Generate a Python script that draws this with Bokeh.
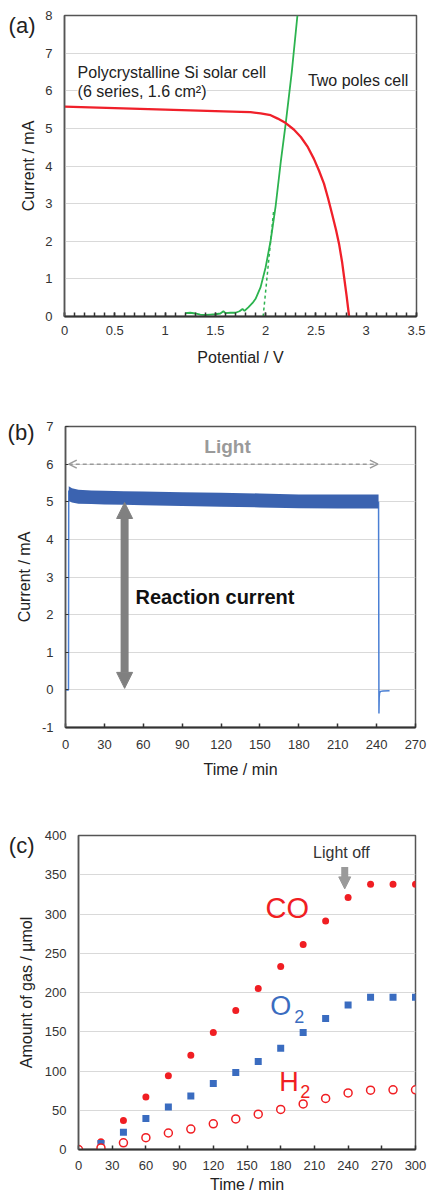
from bokeh.plotting import figure
from bokeh.models import (Range1d, SingleIntervalTicker, FixedTicker, Label, Arrow, NormalHead,
                          OpenHead, LinearAxis, CustomJSTickFormatter)
from bokeh.embed import file_html
from bokeh.resources import INLINE

FONT = "Liberation Sans"

# ---------------- (a) I-V curves ----------------
solar_v = [0.0, 0.25, 0.5, 0.75, 1.0, 1.25, 1.5, 1.75, 1.85, 1.95, 2.05, 2.12, 2.2,
           2.28, 2.35, 2.42, 2.48, 2.53, 2.58, 2.62, 2.66, 2.70, 2.73, 2.76, 2.78,
           2.805, 2.83]
solar_i = [5.58, 5.56, 5.54, 5.52, 5.50, 5.48, 5.46, 5.44, 5.43, 5.40, 5.35, 5.26, 5.14,
           4.97, 4.77, 4.50, 4.19, 3.88, 3.53, 3.15, 2.73, 2.30, 1.93, 1.45, 1.05,
           0.55, 0.0]
cell_v = [1.20, 1.25, 1.30, 1.35, 1.40, 1.45, 1.50, 1.55, 1.58, 1.60, 1.65, 1.70, 1.74,
          1.77, 1.79, 1.83, 1.87, 1.90, 1.95, 2.00, 2.05, 2.10, 2.15, 2.20, 2.26, 2.316]
cell_i = [0.09, 0.10, 0.08, 0.05, 0.04, 0.05, 0.06, 0.08, 0.14, 0.09, 0.10, 0.10, 0.14,
          0.20, 0.15, 0.25, 0.36, 0.47, 0.78, 1.31, 2.02, 2.95, 4.10, 5.14, 6.50, 8.0]
onset_v = [1.975, 2.08]
onset_i = [0.0, 2.82]
a_xticks = [0, 0.5, 1, 1.5, 2, 2.5, 3, 3.5]
a_xlabels = ["0", "0.5", "1", "1.5", "2", "2.5", "3", "3.5"]
a_yticks = [0, 1, 2, 3, 4, 5, 6, 7, 8]

# ---------------- (b) current vs time ----------------
band_t = [2.5, 5, 10, 20, 30, 45, 60, 90, 120, 150, 180, 210, 241.5]
band_hi = [5.41, 5.36, 5.32, 5.30, 5.29, 5.28, 5.27, 5.25, 5.24, 5.22, 5.19, 5.19, 5.19]
band_lo = [5.02, 4.98, 4.95, 4.94, 4.93, 4.92, 4.91, 4.89, 4.87, 4.85, 4.83, 4.82, 4.82]
start_t = [0, 2.3, 2.5]
start_i = [0.0, 0.0, 5.3]
end_t = [241.5, 241.8, 242.0, 242.3, 243, 245, 250]
end_i = [5.0, -0.63, -0.2, -0.08, -0.04, -0.03, -0.02]
light_on, light_off, light_level = 2.5, 241.0, 6.0
react_t, react_lo, react_hi = 45.6, 0.04, 4.98
b_xticks = [0, 30, 60, 90, 120, 150, 180, 210, 240, 270]
b_yticks = [-1, 0, 1, 2, 3, 4, 5, 6, 7]

# ---------------- (c) gas amounts ----------------
gas_t = [0, 20, 40, 60, 80, 100, 120, 140, 160, 180, 200, 220, 240, 260, 280, 300]
co = [0, 10, 37, 67, 94, 120, 149, 177, 205, 233, 261, 291, 321, 338, 338, 338]
o2 = [0, 7.6, 22, 39.5, 54, 68, 84, 98, 112, 129, 149, 167, 184, 194, 194, 194]
h2 = [0, 2, 8.5, 15, 21, 26, 32.7, 39, 45, 51, 58, 65, 72, 75.5, 76, 76]
lightoff_t, lightoff_top, lightoff_tip = 237, 360, 332
c_xticks = [0, 30, 60, 90, 120, 150, 180, 210, 240, 270, 300]
c_yticks = [0, 50, 100, 150, 200, 250, 300, 350, 400]

# panel tags (drawn as a one-tick outer axis that also carries the y title)
tag_a, tag_a_y = "(a)", 7.73
tag_b, tag_b_y = "(b)", 6.84
tag_c, tag_c_y = "(c)", 387.0


def style(p, xlab, ylab, xticks, yticks, xlabels, tag, tag_y, x_minor=0, y_tick_in=0,
          x_std=10, x_title_std=10, y_std=12, tag_std=7, y_title_std=-26):
    p.outline_line_color = "#555555"
    p.outline_line_width = 1.5
    p.xgrid.grid_line_color = None
    p.ygrid.grid_line_color = "#d9d9d9"
    p.ygrid.grid_line_width = 1
    xa, ya = p.xaxis[0], p.yaxis[0]
    xa.ticker = SingleIntervalTicker(interval=xticks[1] - xticks[0], num_minor_ticks=x_minor)
    ya.ticker = SingleIntervalTicker(interval=yticks[1] - yticks[0], num_minor_ticks=0)
    xa.major_label_overrides = {t: s for t, s in zip(xticks, xlabels)}
    ya.major_label_overrides = {t: str(t) for t in yticks}
    xa.axis_label = xlab
    for ax in (xa, ya):
        ax.axis_label_text_font = FONT
        ax.axis_label_text_font_style = "normal"
        ax.axis_label_text_font_size = "16px"
        ax.axis_label_text_color = "#222222"
        ax.major_label_text_font = FONT
        ax.major_label_text_font_size = "13px"
        ax.major_label_text_color = "#333333"
        ax.major_tick_out = 0
        ax.minor_tick_out = 0
    xa.axis_line_color = "#333333"
    xa.axis_line_width = 2
    xa.major_tick_in = 4
    xa.major_tick_line_width = 1.5
    xa.major_tick_line_color = "#333333"
    xa.minor_tick_in = 4
    xa.minor_tick_line_width = 1.5
    xa.minor_tick_line_color = "#333333"
    ya.axis_line_color = "#555555"
    ya.axis_line_width = 1.5
    ya.major_tick_in = y_tick_in
    ya.major_tick_line_color = "#333333" if y_tick_in else None
    ya.minor_tick_line_color = None
    xa.major_label_standoff = x_std
    xa.axis_label_standoff = x_title_std
    ya.major_label_standoff = y_std
    # outer axis: panel tag + y title
    tag_axis = LinearAxis(ticker=FixedTicker(ticks=[tag_y]),
                          formatter=CustomJSTickFormatter(args=dict(t=tag), code="return t"),
                          axis_line_color=None, major_tick_line_color=None,
                          minor_tick_line_color=None, major_tick_out=0, major_tick_in=0,
                          major_label_standoff=tag_std,
                          major_label_text_font=FONT, major_label_text_font_size="22px",
                          major_label_text_color="#222222",
                          axis_label=ylab, axis_label_standoff=y_title_std,
                          axis_label_text_font=FONT, axis_label_text_font_size="16px",
                          axis_label_text_font_style="normal", axis_label_text_color="#222222")
    p.add_layout(tag_axis, "left")


def label(p, x, y, text, size, color, weight="normal", align="center", bg=None):
    lb = Label(x=x, y=y, text=text, text_font=FONT, text_font_size=f"{size}px",
               text_color=color, text_font_style=weight, text_align=align,
               text_baseline="middle")
    if bg:
        lb.background_fill_color = bg
    p.add_layout(lb)


# ======== figure (a) ========
pa = figure(width=427, height=390, output_backend="svg", toolbar_location=None,
            x_range=Range1d(0, 3.5), y_range=Range1d(0, 8),
            min_border_left=64, min_border_right=11, min_border_top=15, min_border_bottom=74)
style(pa, "Potential / V", "Current / mA", a_xticks, a_yticks, a_xlabels, tag_a, tag_a_y,
      x_minor=5, x_std=9, x_title_std=11, y_std=12, tag_std=7, y_title_std=-31)
pa.line(onset_v, onset_i, line_color="#2cb34f", line_width=1.5, line_dash="3 3")
pa.line(cell_v, cell_i, line_color="#2cb34f", line_width=1.8)
pa.line(solar_v, solar_i, line_color="#f0202a", line_width=2.3)
label(pa, 0.13, 6.49, "Polycrystalline Si solar cell", 16, "#222222", align="left", bg="white")
label(pa, 0.13, 5.98, "(6 series, 1.6 cm\u00b2)", 16, "#222222", align="left", bg="white")
label(pa, 2.42, 6.28, "Two poles cell", 16, "#222222", align="left", bg="white")

# ======== figure (b) ========
pb = figure(width=427, height=410, output_backend="svg", toolbar_location=None,
            x_range=Range1d(0, 270), y_range=Range1d(-1, 7),
            min_border_left=65, min_border_right=12, min_border_top=36, min_border_bottom=73)
style(pb, "Time / min", "Current / mA", b_xticks, b_yticks, [str(t) for t in b_xticks],
      tag_b, tag_b_y, y_tick_in=3, x_std=12, x_title_std=9, y_std=12, tag_std=4,
      y_title_std=-28)
pb.line(start_t, start_i, line_color="#4a7fd4", line_width=1.5)
pb.line(end_t, end_i, line_color="#4a7fd4", line_width=1.5)
pb.varea(x=band_t, y1=band_lo, y2=band_hi, fill_color="#3b63b0")
pb.add_layout(Arrow(start=OpenHead(size=8, line_color="#9a9a9a", line_width=1.5),
                    end=OpenHead(size=8, line_color="#9a9a9a", line_width=1.5),
                    x_start=light_on, y_start=light_level, x_end=light_off, y_end=light_level,
                    line_color="#9a9a9a", line_width=1.5, line_dash="4 3"))
pb.add_layout(Arrow(start=NormalHead(size=16, fill_color="#808080", line_color="#808080"),
                    end=NormalHead(size=16, fill_color="#808080", line_color="#808080"),
                    x_start=react_t, y_start=react_lo, x_end=react_t, y_end=react_hi,
                    line_color="#808080", line_width=8))
label(pb, 125, 6.47, "Light", 19, "#9a9a9a", weight="bold")
label(pb, 54, 2.48, "Reaction current", 20, "#111111", weight="bold", align="left")

# ======== figure (c) ========
pc = figure(width=427, height=396, output_backend="svg", toolbar_location=None,
            x_range=Range1d(0, 300), y_range=Range1d(0, 400),
            min_border_left=78, min_border_right=12, min_border_top=35, min_border_bottom=47)
style(pc, "Time / min", "Amount of gas / \u00b5mol", c_xticks, c_yticks,
      [str(t) for t in c_xticks], tag_c, tag_c_y, x_std=11, x_title_std=3, y_std=12,
      tag_std=7, y_title_std=-29)
pc.scatter(gas_t, co, marker="circle", size=7, fill_color="#f01e23", line_color=None)
pc.scatter(gas_t, o2, marker="square", size=7, fill_color="#3a6cc0", line_color=None)
pc.scatter(gas_t, h2, marker="circle", size=8, fill_color="white", line_color="#f01e23",
           line_width=1.5)
pc.add_layout(Arrow(end=NormalHead(size=12, fill_color="#9a9a9a", line_color="#9a9a9a"),
                    x_start=lightoff_t, y_start=lightoff_top, x_end=lightoff_t, y_end=lightoff_tip,
                    line_color="#9a9a9a", line_width=7))
label(pc, 234, 378.7, "Light off", 16, "#333333")
label(pc, 185.8, 308, "CO", 29, "#f01e23")
label(pc, 180.0, 183.4, "O", 27, "#3a6cc0")
label(pc, 196.5, 169.6, "2", 18, "#3a6cc0")
label(pc, 187.3, 86.6, "H", 27, "#f01e23")
label(pc, 201.9, 73.9, "2", 18, "#f01e23")

open("out.html", "w").write(file_html([pa, pb, pc], INLINE))
